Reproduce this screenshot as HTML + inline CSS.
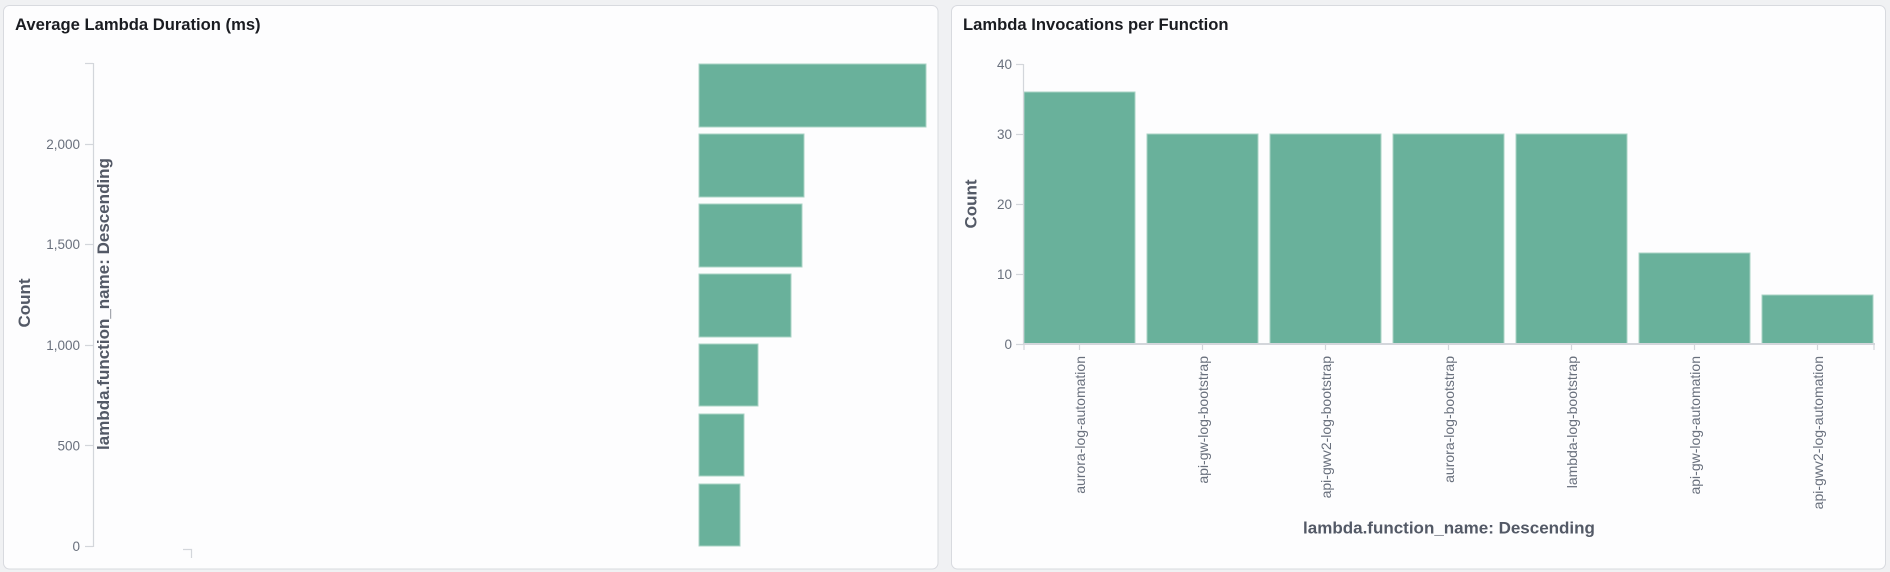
<!DOCTYPE html>
<html>
<head>
<meta charset="utf-8">
<style>
  html, body { margin: 0; padding: 0; background: #f0f1f3; }
  body { width: 1890px; height: 572px; overflow: hidden; }
  svg { display: block; }
  text { font-family: "Liberation Sans", "DejaVu Sans", sans-serif; }
  .title { font-weight: bold; font-size: 16.6px; fill: #1a1c21; }
  .tick { font-size: 13.5px; fill: #69707d; }
  .xtick { font-size: 14px; fill: #69707d; }
  .axt { font-weight: bold; font-size: 17px; fill: #535966; }
  .bar { fill: #69b19b; stroke: #a9d3c4; stroke-width: 1; }
  .ax { stroke: #d3d6db; fill: none; }
</style>
</head>
<body>
<svg width="1890" height="572" viewBox="0 0 1890 572" xmlns="http://www.w3.org/2000/svg">
  <rect x="0" y="0" width="1890" height="572" fill="#f0f1f3"/>
  <!-- panels -->
  <rect x="3.5" y="5.5" width="934.5" height="563.5" rx="6" ry="6" fill="#fdfdfe" stroke="#d8dadf" stroke-width="1"/>
  <rect x="951.5" y="5.5" width="934" height="563.5" rx="6" ry="6" fill="#fdfdfe" stroke="#d8dadf" stroke-width="1"/>

  <!-- LEFT PANEL -->
  <text class="title" x="15" y="30">Average Lambda Duration (ms)</text>
  <!-- y axis -->
  <line class="ax" x1="93.5" y1="63" x2="93.5" y2="547" stroke-width="1.2"/>
  <g class="ax" stroke-width="1.2">
    <line x1="85" y1="63.5" x2="93" y2="63.5"/>
    <line x1="85" y1="144.5" x2="93" y2="144.5"/>
    <line x1="85" y1="244.5" x2="93" y2="244.5"/>
    <line x1="85" y1="345.5" x2="93" y2="345.5"/>
    <line x1="85" y1="445.5" x2="93" y2="445.5"/>
    <line x1="85" y1="546.5" x2="93" y2="546.5"/>
  </g>
  <g class="tick" text-anchor="end" dominant-baseline="central">
    <text x="80" y="144.5">2,000</text>
    <text x="80" y="244.5">1,500</text>
    <text x="80" y="345.5">1,000</text>
    <text x="80" y="446">500</text>
    <text x="80" y="546.5">0</text>
  </g>
  <text class="axt" transform="translate(24.5,303) rotate(-90)" text-anchor="middle" dominant-baseline="central">Count</text>
  <text class="axt" transform="translate(103.5,304) rotate(-90)" text-anchor="middle" dominant-baseline="central">lambda.function_name: Descending</text>
  <path class="ax" d="M183 549.5 H191.5 V558" stroke-width="1.2"/>
  <!-- horizontal bars -->
  <rect class="bar" x="699" y="64" width="227" height="63"/>
  <rect class="bar" x="699" y="134" width="105" height="63"/>
  <rect class="bar" x="699" y="204" width="103" height="63"/>
  <rect class="bar" x="699" y="274" width="92" height="63"/>
  <rect class="bar" x="699" y="344" width="59" height="62"/>
  <rect class="bar" x="699" y="414" width="45" height="62"/>
  <rect class="bar" x="699" y="484" width="41" height="62"/>

  <!-- RIGHT PANEL -->
  <text class="title" x="963" y="30">Lambda Invocations per Function</text>
  <!-- bars -->
  <rect class="bar" x="1024" y="92" width="111" height="252"/>
  <rect class="bar" x="1147" y="134" width="111" height="210"/>
  <rect class="bar" x="1270" y="134" width="111" height="210"/>
  <rect class="bar" x="1393" y="134" width="111" height="210"/>
  <rect class="bar" x="1516" y="134" width="111" height="210"/>
  <rect class="bar" x="1639" y="253" width="111" height="91"/>
  <rect class="bar" x="1762" y="295" width="111" height="49"/>
  <!-- y axis -->
  <line class="ax" x1="1023.5" y1="64" x2="1023.5" y2="344" stroke-width="1.2"/>
  <g class="ax" stroke-width="1.2">
    <line x1="1016" y1="64.5" x2="1023" y2="64.5"/>
    <line x1="1016" y1="134.5" x2="1023" y2="134.5"/>
    <line x1="1016" y1="204.5" x2="1023" y2="204.5"/>
    <line x1="1016" y1="274.5" x2="1023" y2="274.5"/>
    <line x1="1016" y1="344.5" x2="1023" y2="344.5"/>
  </g>
  <g class="tick" text-anchor="end" dominant-baseline="central">
    <text x="1012" y="64.5">40</text>
    <text x="1012" y="134.5">30</text>
    <text x="1012" y="204.5">20</text>
    <text x="1012" y="274.5">10</text>
    <text x="1012" y="344.5">0</text>
  </g>
  <text class="axt" transform="translate(971,204) rotate(-90)" text-anchor="middle" dominant-baseline="central">Count</text>
  <!-- x axis -->
  <line class="ax" x1="1023" y1="344" x2="1875" y2="344" stroke-width="2"/>
  <g class="ax" stroke-width="1.2">
    <line x1="1024" y1="344" x2="1024" y2="350"/>
    <line x1="1874" y1="344" x2="1874" y2="350"/>
    <line x1="1079.5" y1="344" x2="1079.5" y2="350"/>
    <line x1="1202.5" y1="344" x2="1202.5" y2="350"/>
    <line x1="1325.5" y1="344" x2="1325.5" y2="350"/>
    <line x1="1448.5" y1="344" x2="1448.5" y2="350"/>
    <line x1="1571.5" y1="344" x2="1571.5" y2="350"/>
    <line x1="1694.5" y1="344" x2="1694.5" y2="350"/>
    <line x1="1817.5" y1="344" x2="1817.5" y2="350"/>
  </g>
  <g class="xtick" text-anchor="end" dominant-baseline="central">
    <text transform="translate(1080,356) rotate(-90)">aurora-log-automation</text>
    <text transform="translate(1203,356) rotate(-90)">api-gw-log-bootstrap</text>
    <text transform="translate(1326,356) rotate(-90)">api-gwv2-log-bootstrap</text>
    <text transform="translate(1449,356) rotate(-90)">aurora-log-bootstrap</text>
    <text transform="translate(1572,356) rotate(-90)">lambda-log-bootstrap</text>
    <text transform="translate(1695,356) rotate(-90)">api-gw-log-automation</text>
    <text transform="translate(1818,356) rotate(-90)">api-gwv2-log-automation</text>
  </g>
  <text class="axt" x="1449" y="528" text-anchor="middle" dominant-baseline="central">lambda.function_name: Descending</text>
</svg>
</body>
</html>
